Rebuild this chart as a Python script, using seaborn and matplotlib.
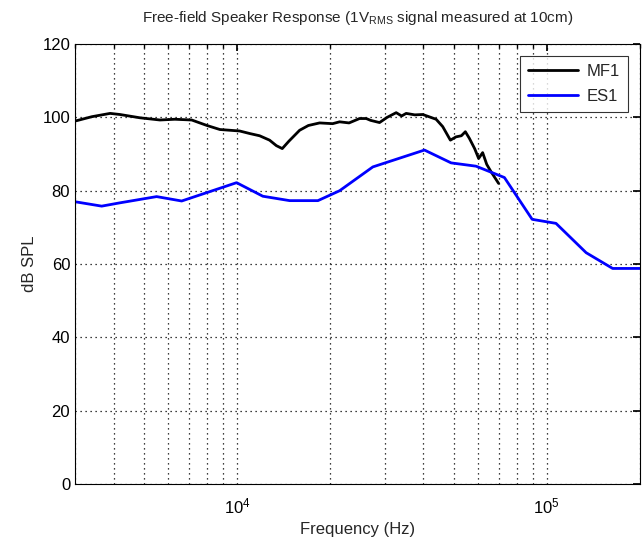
import numpy as np
import pandas as pd
import matplotlib
matplotlib.use("Agg")
import matplotlib.pyplot as plt
import matplotlib.ticker as mticker
import seaborn as sns

# ── data ──────────────────────────────────────────────────────────────────────
mf1_freq = [3000, 3400, 3894, 4188, 4861, 5640, 6300, 7141, 8000, 8807, 10200,
            11000, 11830, 12740, 13400, 14000, 14700, 15930, 17000, 18480,
            20360, 21440, 23000, 24870, 26130, 27000, 28850, 30500, 32650,
            34000, 35160, 37500, 39780, 43930, 46140, 48850, 50960, 53000,
            54600, 56250, 58500, 60270, 62090, 64000, 66070, 69910]
mf1_db = [99.0, 100.2, 101.1, 100.8, 99.9, 99.3, 99.5, 99.3, 97.8, 96.7, 96.3,
          95.6, 95.0, 93.8, 92.3, 91.5, 93.5, 96.5, 97.8, 98.5,
          98.3, 98.8, 98.5, 99.7, 99.7, 99.2, 98.6, 100.0, 101.3,
          100.4, 101.1, 100.7, 100.8, 99.5, 97.5, 93.8, 94.7, 95.0,
          96.1, 94.3, 91.5, 88.8, 90.4, 87.2, 85.2, 82.0]

es1_freq = [3000, 3657, 4188, 5502, 6629, 9969, 12120, 14790, 18250, 21440,
            27450, 40290, 49110, 59110, 73000, 89720, 107100, 134000, 163200,
            200000]
es1_db = [77.0, 75.8, 76.7, 78.4, 77.2, 82.2, 78.5, 77.3, 77.3, 80.0,
          86.5, 91.1, 87.6, 86.7, 83.6, 72.2, 71.1, 63.1, 58.8, 58.8]

df = pd.concat([
    pd.DataFrame({"freq": mf1_freq, "spl": mf1_db, "speaker": "MF1"}),
    pd.DataFrame({"freq": es1_freq, "spl": es1_db, "speaker": "ES1"}),
])

# ── plot ──────────────────────────────────────────────────────────────────────
sns.set_theme(style="white")
plt.rcParams["font.family"] = ["Liberation Sans", "DejaVu Sans"]
plt.rcParams["mathtext.fontset"] = "custom"
plt.rcParams["mathtext.rm"] = "Liberation Sans"

fig = plt.figure(figsize=(6.44, 5.38), dpi=100)
ax = fig.add_axes([0.1165, 0.1004, 0.8773, 0.8176])

sns.lineplot(data=df, x="freq", y="spl", hue="speaker",
             palette={"MF1": "black", "ES1": "#0000ff"},
             linewidth=2, sort=False, estimator=None, ax=ax)

ax.set_xscale("log")
ax.set_xlim(3000, 200000)
ax.set_ylim(0, 120)
ax.set_yticks(range(0, 121, 20))
ax.xaxis.set_major_locator(mticker.LogLocator(base=10))
ax.xaxis.set_minor_locator(mticker.LogLocator(base=10, subs=np.arange(2, 10)))
ax.xaxis.set_minor_formatter(mticker.NullFormatter())

dots = (0, (1, 3))
ax.grid(True, which="major", axis="both", color="black", linestyle=dots, linewidth=0.9)
ax.grid(True, which="minor", axis="x", color="black", linestyle=dots, linewidth=0.9)

for s in ax.spines.values():
    s.set_color("black")
    s.set_linewidth(0.8)
ax.tick_params(which="both", direction="in", top=True, right=True,
               colors="black", labelsize=12)
ax.tick_params(which="major", length=5)
ax.tick_params(which="minor", length=3)
ax.tick_params(axis="x", pad=9)

ax.set_xlabel("Frequency (Hz)", fontsize=12, labelpad=4)
ax.set_ylabel("dB SPL", fontsize=12)
ax.set_title(r"Free-field Speaker Response (1V$_{\mathregular{RMS}}$ signal measured at 10cm)",
             fontsize=11, pad=16)

leg = ax.legend(loc="upper right", fontsize=12, frameon=True, fancybox=False,
                edgecolor="black", handlelength=3, handletextpad=0.5,
                borderaxespad=0.7, borderpad=0.5, labelspacing=0.6)
leg.get_frame().set_linewidth(0.8)
for h in leg.get_lines():
    h.set_linewidth(2)

fig.savefig("out.png", dpi=100, facecolor="white")
